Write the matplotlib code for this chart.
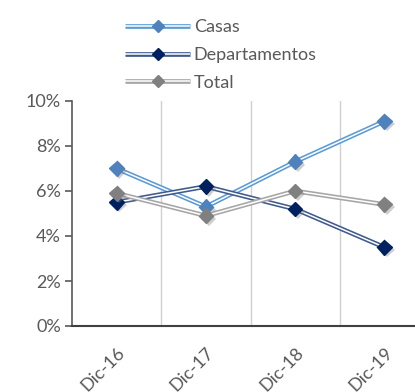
import matplotlib
matplotlib.use("Agg")
import matplotlib.pyplot as plt
import matplotlib.patheffects as pe
from matplotlib.ticker import FuncFormatter, MultipleLocator
from matplotlib.lines import Line2D
from matplotlib.legend_handler import HandlerTuple

periodos = ["Dic-16", "Dic-17", "Dic-18", "Dic-19"]
casas = [7.0, 5.3, 7.3, 9.1]
departamentos = [5.5, 6.2, 5.2, 3.5]
total = [5.9, 4.9, 6.0, 5.4]

series = [
    ("Casas", casas, "#5b9bd5", "#4f81bd"),
    ("Departamentos", departamentos, "#3f5a8c", "#002060"),
    ("Total", total, "#a6a6a6", "#808080"),
]

plt.rcParams["font.family"] = ["Lato", "DejaVu Sans"]
text_color = "#595959"

fig = plt.figure(figsize=(4.15, 3.92), dpi=100)
# plot area runs past the right edge of the figure
ax = fig.add_axes([72 / 415, 1 - 326 / 392, (429 - 72) / 415, (326 - 101) / 392])

shadow = [pe.SimplePatchShadow(offset=(2, -2), shadow_rgbFace="#777777", alpha=0.35),
          pe.Normal()]

x = list(range(len(periodos)))
legend_handles = []
for i, (name, vals, line_c, mark_c) in enumerate(series):
    z = 3 + i * 0.1
    ax.plot(x, vals, color=line_c, lw=3.4, solid_capstyle="butt",
            solid_joinstyle="miter", zorder=z)
    ax.plot(x, vals, color="white", lw=1.1, solid_capstyle="butt",
            solid_joinstyle="miter", zorder=z + 0.01)
    ax.plot(x, vals, linestyle="none", marker="D", ms=7.5, color=mark_c,
            mec=mark_c, zorder=z + 0.02, path_effects=shadow)
    legend_handles.append((
        Line2D([0], [0], color=line_c, lw=3.4, solid_capstyle="butt"),
        Line2D([0], [0], color="white", lw=1.1, solid_capstyle="butt"),
        Line2D([0], [0], linestyle="none", marker="D", ms=6, mfc=mark_c, mec=mark_c),
    ))

ax.set_xlim(-0.5, 3.5)
ax.set_ylim(0, 10)
ax.yaxis.set_major_locator(MultipleLocator(2))
ax.yaxis.set_major_formatter(FuncFormatter(lambda v, p: f"{v:.0f}%"))
ax.set_xticks([k + 0.5 for k in x[:-1]], minor=True)
ax.set_xticks(x)
ax.set_xticklabels(periodos, rotation=45, ha="right", rotation_mode="anchor")
ax.grid(True, which="minor", axis="x", color="#d0d0d0", lw=1.0)
ax.set_axisbelow(True)

for s in ("top", "right"):
    ax.spines[s].set_visible(False)
ax.spines["left"].set_color("#595959")
ax.spines["bottom"].set_color("#404040")
ax.spines["left"].set_linewidth(1.2)
ax.spines["bottom"].set_linewidth(1.5)
ax.tick_params(axis="y", length=5, width=1.2, color="#595959",
               labelsize=13, labelcolor=text_color, pad=3)
ax.tick_params(axis="x", which="both", length=0, labelsize=13,
               labelcolor=text_color, pad=13)

leg = fig.legend(legend_handles, [s[0] for s in series], loc="upper left",
                 bbox_to_anchor=(118 / 415, 1 - 12 / 392), frameon=False,
                 fontsize=13, handlelength=3.6, handletextpad=0.2,
                 labelspacing=0.65, borderaxespad=0,
                 handler_map={tuple: HandlerTuple(ndivide=1, pad=0)})
for t in leg.get_texts():
    t.set_color(text_color)

fig.savefig("out.png", dpi=100)
